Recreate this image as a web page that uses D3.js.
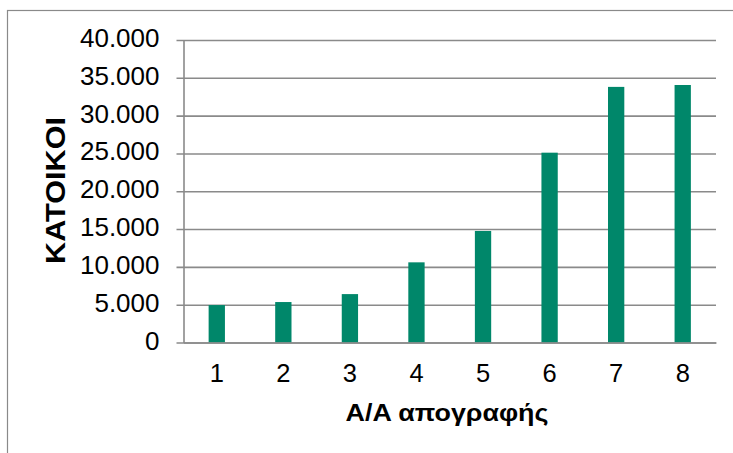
<!DOCTYPE html>
<html>
<head>
<meta charset="utf-8">
<script src="https://cdn.jsdelivr.net/npm/d3@7"></script>
<style>
  html, body { margin: 0; padding: 0; background: #fff; }
  svg { display: block; }
  text { font-family: "Liberation Sans", Arial, sans-serif; fill: #000; }
</style>
</head>
<body>
<svg id="chart" width="733" height="453"></svg>
<script>
// Census serial numbers and inhabitants per census
const censusIds = ["1", "2", "3", "4", "5", "6", "7", "8"];
const inhabitants = [4950, 5350, 6400, 10600, 14750, 25100, 33800, 34050];
const yTicks = [0, 5000, 10000, 15000, 20000, 25000, 30000, 35000, 40000];
const xTitle = "A/A απογραφής";
const yTitle = "KATOIKOI";

const svg = d3.select("#chart");
const W = 733, H = 453;
const plotLeft = 183.5, plotRight = 716, plotTop = 40, plotBottom = 342.5;
const gridColor = "#8a8a8a";
const barColor = "#00876a";

// outer chart frame
svg.append("rect")
  .attr("x", 7.5).attr("y", 10.5)
  .attr("width", W + 20).attr("height", H + 20)
  .attr("fill", "#fff").attr("stroke", gridColor).attr("stroke-width", 1.2);

const x = d3.scaleBand()
  .domain(censusIds)
  .range([plotLeft, plotRight])
  .paddingInner(0.755)
  .paddingOuter(0.3775);

const y = d3.scaleLinear().domain([0, 40000]).range([plotBottom, plotTop]);

const greek = d3.formatLocale({ decimal: ",", thousands: ".", grouping: [3], currency: ["", "€"] });
const fmt = greek.format(",d");

// y axis with gridlines across the plot
const yAxis = svg.append("g")
  .attr("transform", `translate(${plotLeft},0)`)
  .call(d3.axisLeft(y).tickValues(yTicks).tickFormat(fmt).tickSizeOuter(0));
yAxis.select(".domain").attr("stroke", gridColor).attr("stroke-width", 1.6);
yAxis.selectAll(".tick line")
  .attr("x1", -7).attr("x2", plotRight - plotLeft)
  .attr("stroke", gridColor).attr("stroke-width", 1.6);
yAxis.selectAll(".tick text")
  .attr("x", -24).attr("y", 6.5).attr("dy", null)
  .attr("text-anchor", "end")
  .attr("font-size", 26);

// bars
svg.append("g").selectAll("rect")
  .data(censusIds.map((c, i) => ({ c, v: inhabitants[i] })))
  .join("rect")
  .attr("x", d => x(d.c))
  .attr("width", x.bandwidth())
  .attr("y", d => y(d.v))
  .attr("height", d => y(0) - y(d.v))
  .attr("fill", barColor);

// x axis
const xAxis = svg.append("g")
  .attr("transform", `translate(0,${plotBottom})`)
  .call(d3.axisBottom(x).tickSize(0).tickSizeOuter(0));
xAxis.select(".domain").attr("stroke", gridColor).attr("stroke-width", 1.6);
xAxis.selectAll(".tick text")
  .attr("y", 39.5).attr("dy", null)
  .attr("font-size", 25.5);

// axis titles
const xt = svg.append("text")
  .attr("text-anchor", "middle")
  .attr("font-weight", "bold")
  .attr("font-size", 23)
  .text(xTitle);
const xw = xt.node().getComputedTextLength();
xt.attr("transform", `translate(447,420.5) scale(${203 / xw},1)`);

const yt = svg.append("text")
  .attr("text-anchor", "middle")
  .attr("font-weight", "bold")
  .attr("font-size", 28)
  .text(yTitle);
const yw = yt.node().getComputedTextLength();
yt.attr("transform", `translate(65,190.5) rotate(-90) scale(${147 / yw},1)`);
</script>
</body>
</html>
